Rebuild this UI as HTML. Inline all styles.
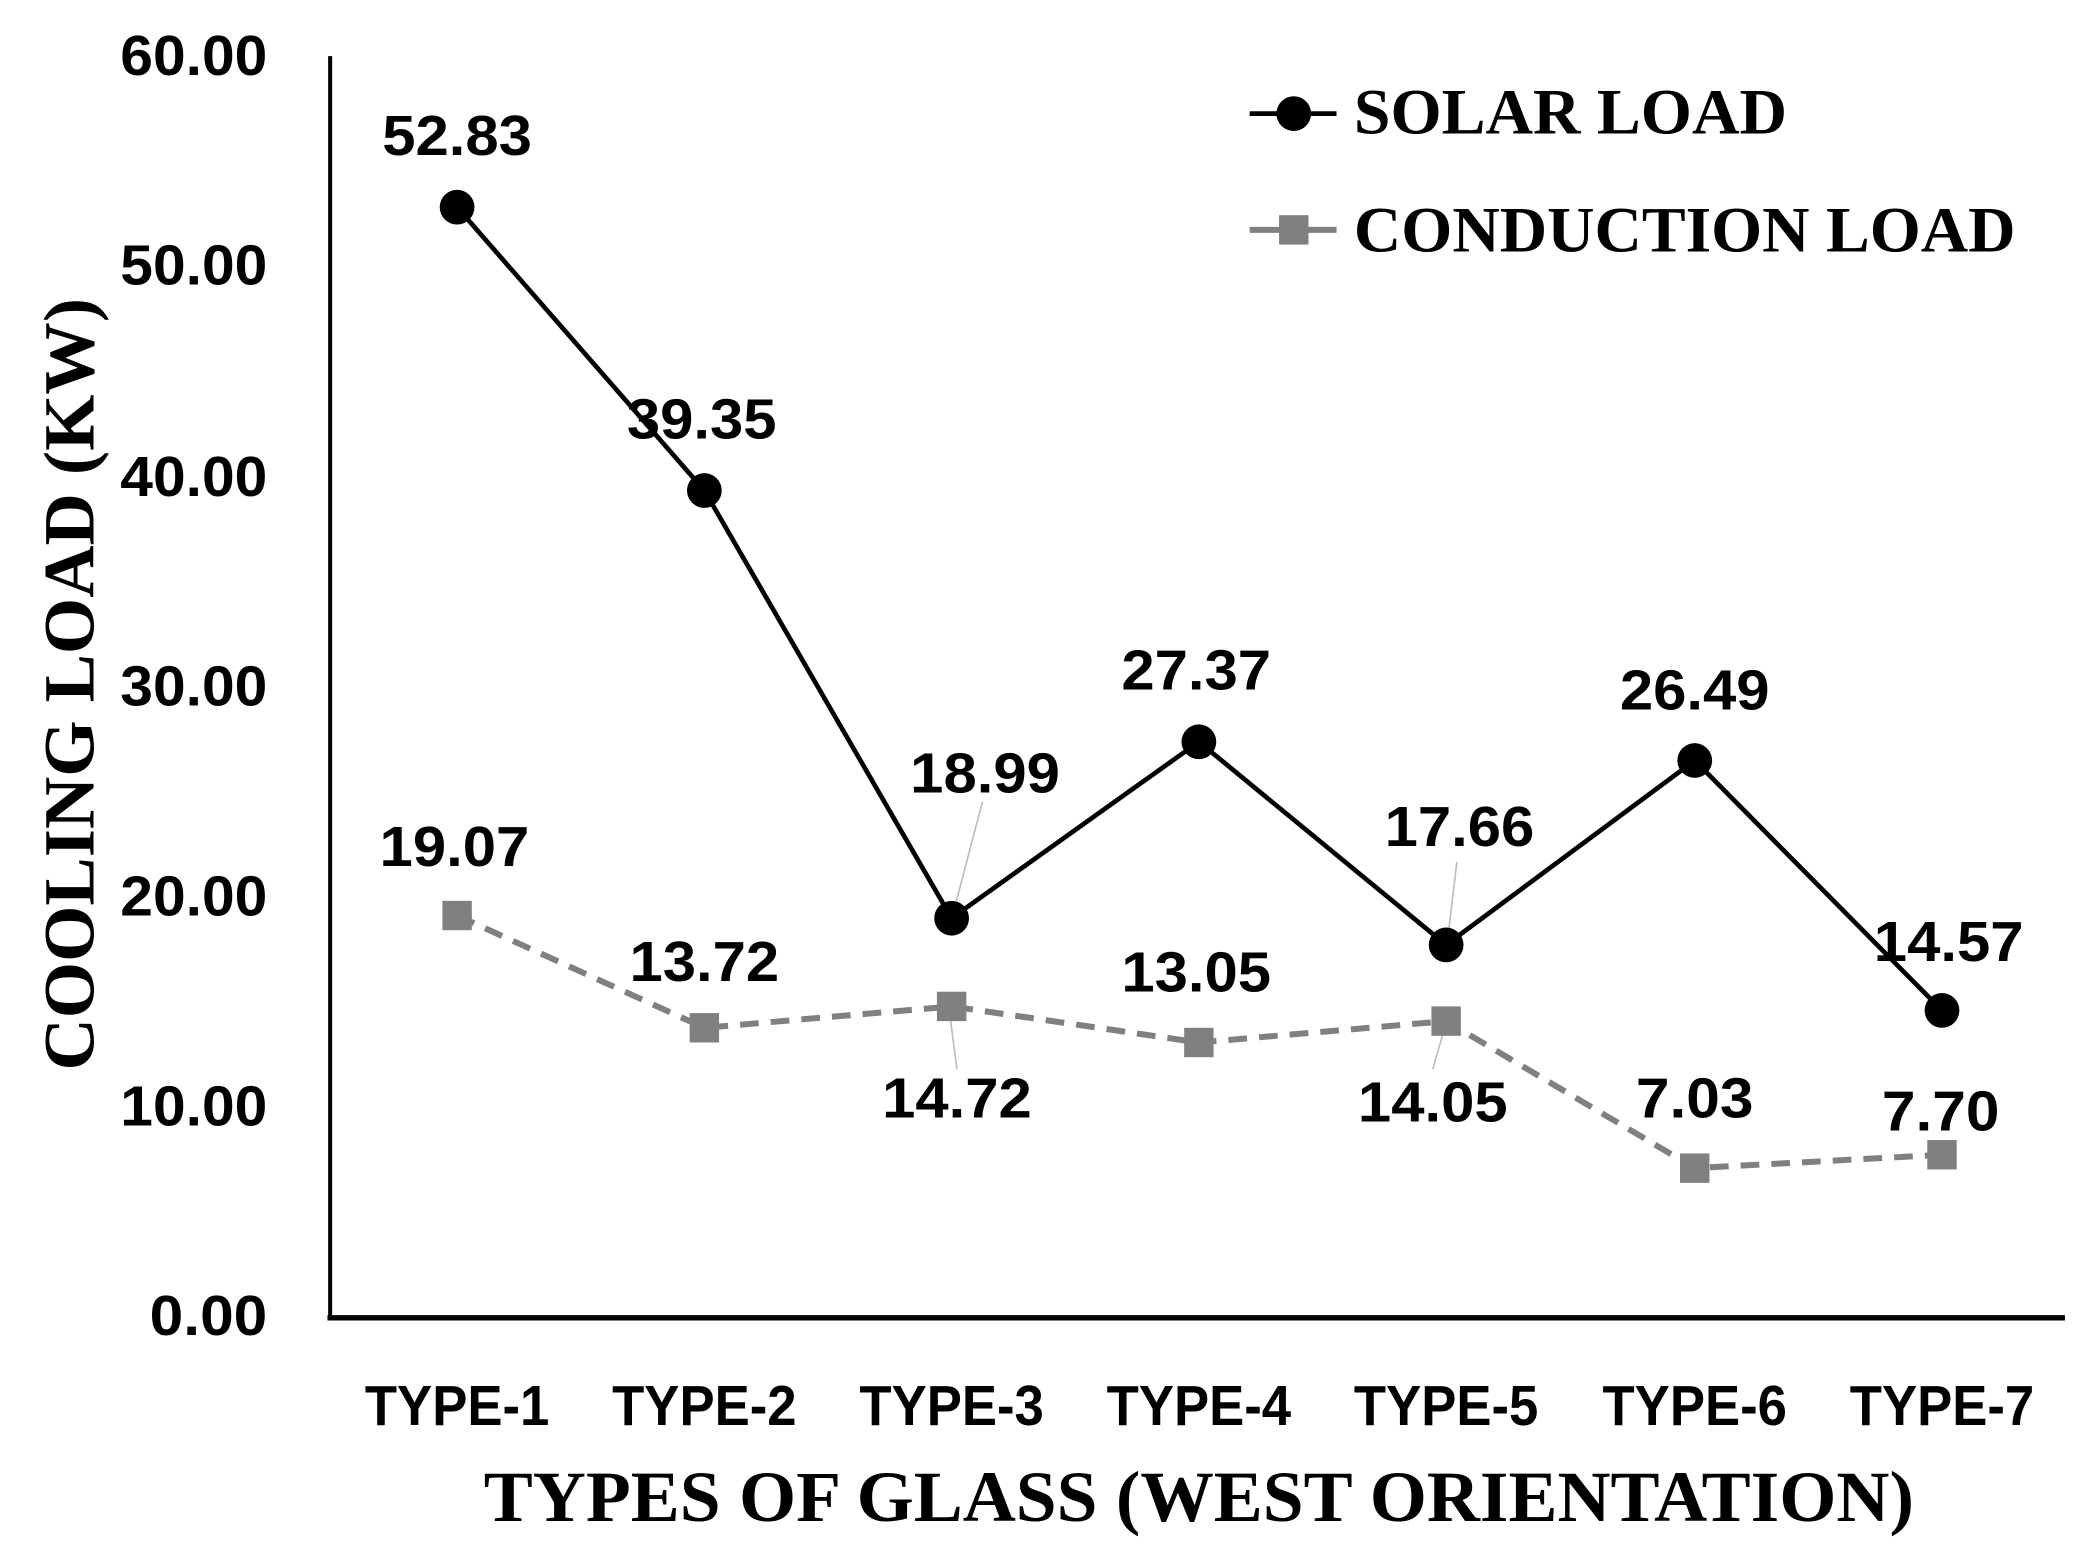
<!DOCTYPE html>
<html><head><meta charset="utf-8"><style>html,body{margin:0;padding:0;background:#fff}svg{display:block}</style></head>
<body>
<svg width="2085" height="1556" viewBox="0 0 1560 1164.2" preserveAspectRatio="none" xmlns="http://www.w3.org/2000/svg">
<rect width="1560" height="1164.2" fill="#fff"/>
<line x1="247" y1="42" x2="247" y2="987" stroke="#000" stroke-width="3"/>
<line x1="245" y1="986" x2="1545" y2="986" stroke="#000" stroke-width="4"/>
<g font-family="Liberation Sans, sans-serif" font-weight="bold" font-size="42" text-anchor="end">
<text x="200" y="56" textLength="110" lengthAdjust="spacingAndGlyphs">60.00</text>
<text x="200" y="213" textLength="110" lengthAdjust="spacingAndGlyphs">50.00</text>
<text x="200" y="371" textLength="110" lengthAdjust="spacingAndGlyphs">40.00</text>
<text x="200" y="528" textLength="110" lengthAdjust="spacingAndGlyphs">30.00</text>
<text x="200" y="685" textLength="110" lengthAdjust="spacingAndGlyphs">20.00</text>
<text x="200" y="842" textLength="110" lengthAdjust="spacingAndGlyphs">10.00</text>
<text x="200" y="999" textLength="88" lengthAdjust="spacingAndGlyphs">0.00</text>
</g>
<g font-family="Liberation Sans, sans-serif" font-weight="bold" font-size="42" text-anchor="middle">
<text x="342" y="1066" textLength="138" lengthAdjust="spacingAndGlyphs">TYPE-1</text>
<text x="527" y="1066" textLength="138" lengthAdjust="spacingAndGlyphs">TYPE-2</text>
<text x="712" y="1066" textLength="138" lengthAdjust="spacingAndGlyphs">TYPE-3</text>
<text x="897" y="1066" textLength="138" lengthAdjust="spacingAndGlyphs">TYPE-4</text>
<text x="1082" y="1066" textLength="138" lengthAdjust="spacingAndGlyphs">TYPE-5</text>
<text x="1268" y="1066" textLength="138" lengthAdjust="spacingAndGlyphs">TYPE-6</text>
<text x="1453" y="1066" textLength="138" lengthAdjust="spacingAndGlyphs">TYPE-7</text>
</g>
<text x="897" y="1138" font-family="Liberation Serif, serif" font-weight="bold" font-size="54" text-anchor="middle" textLength="1070" lengthAdjust="spacingAndGlyphs">TYPES OF GLASS (WEST ORIENTATION)</text>
<text transform="translate(70,512) rotate(-90)" font-family="Liberation Serif, serif" font-weight="bold" font-size="54" text-anchor="middle" textLength="578" lengthAdjust="spacingAndGlyphs">COOLING LOAD (KW)</text>
<g stroke="#bbb" stroke-width="1.2">
<line x1="735" y1="600" x2="713" y2="684"/>
<line x1="1090" y1="645" x2="1083" y2="704"/>
<line x1="711" y1="762" x2="716" y2="800"/>
<line x1="1080" y1="772" x2="1072" y2="800"/>
</g>
<polyline points="342,685 527,769 712,753 897,780 1082,764 1268,874 1453,864" fill="none" stroke="#808080" stroke-width="4.5" stroke-dasharray="14,9"/>
<g fill="#808080">
<rect x="331" y="674" width="22" height="22"/><rect x="516" y="758" width="22" height="22"/><rect x="701" y="742" width="22" height="22"/><rect x="886" y="769" width="22" height="22"/><rect x="1071" y="753" width="22" height="22"/><rect x="1257" y="863" width="22" height="22"/><rect x="1442" y="853" width="22" height="22"/>
</g>
<polyline points="342,155 527,367 712,687 897,555 1082,707 1268,569 1453,756" fill="none" stroke="#000" stroke-width="3.5"/>
<g fill="#000">
<circle cx="342" cy="155" r="13"/><circle cx="527" cy="367" r="13"/><circle cx="712" cy="687" r="13"/><circle cx="897" cy="555" r="13"/><circle cx="1082" cy="707" r="13"/><circle cx="1268" cy="569" r="13"/><circle cx="1453" cy="756" r="13"/>
</g>
<g font-family="Liberation Sans, sans-serif" font-weight="bold" font-size="42" text-anchor="middle">
<text x="342" y="116" textLength="112" lengthAdjust="spacingAndGlyphs">52.83</text>
<text x="525" y="328" textLength="112" lengthAdjust="spacingAndGlyphs">39.35</text>
<text x="737" y="593" textLength="112" lengthAdjust="spacingAndGlyphs">18.99</text>
<text x="895" y="516" textLength="112" lengthAdjust="spacingAndGlyphs">27.37</text>
<text x="1092" y="633" textLength="112" lengthAdjust="spacingAndGlyphs">17.66</text>
<text x="1268" y="531" textLength="112" lengthAdjust="spacingAndGlyphs">26.49</text>
<text x="1458" y="719" textLength="112" lengthAdjust="spacingAndGlyphs">14.57</text>
<text x="340" y="648" textLength="112" lengthAdjust="spacingAndGlyphs">19.07</text>
<text x="527" y="734" textLength="112" lengthAdjust="spacingAndGlyphs">13.72</text>
<text x="716" y="836" textLength="112" lengthAdjust="spacingAndGlyphs">14.72</text>
<text x="895" y="742" textLength="112" lengthAdjust="spacingAndGlyphs">13.05</text>
<text x="1072" y="839" textLength="112" lengthAdjust="spacingAndGlyphs">14.05</text>
<text x="1268" y="836" textLength="88" lengthAdjust="spacingAndGlyphs">7.03</text>
<text x="1452" y="846" textLength="88" lengthAdjust="spacingAndGlyphs">7.70</text>
</g>
<line x1="935" y1="85" x2="1000" y2="85" stroke="#000" stroke-width="3.5"/>
<circle cx="968" cy="85" r="13" fill="#000"/>
<line x1="935" y1="172" x2="1000" y2="172" stroke="#808080" stroke-width="4.5"/>
<rect x="957" y="161" width="22" height="22" fill="#808080"/>
<g font-family="Liberation Serif, serif" font-weight="bold" font-size="48">
<text x="1013" y="100" textLength="324" lengthAdjust="spacingAndGlyphs">SOLAR LOAD</text>
<text x="1013" y="188" textLength="495" lengthAdjust="spacingAndGlyphs">CONDUCTION LOAD</text>
</g>
</svg>
</body></html>
